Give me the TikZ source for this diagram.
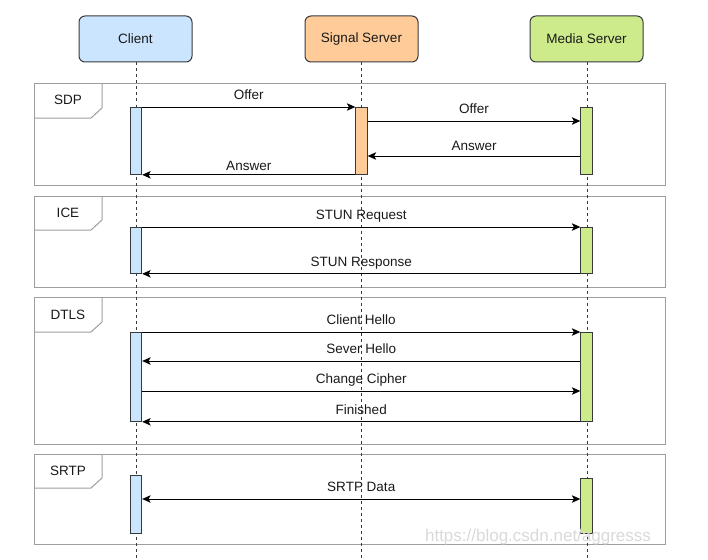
\documentclass[tikz,border=0pt]{standalone}
\usepackage{fontspec}
\setmainfont{Liberation Sans}
\usetikzlibrary{arrows.meta}
\definecolor{cblue}{HTML}{CCE5FF}
\definecolor{corange}{HTML}{FFCC99}
\definecolor{cgreen}{HTML}{CDEB8B}
\definecolor{cstroke}{HTML}{36393D}
\definecolor{cframe}{HTML}{9E9E9E}
\begin{document}
\begin{tikzpicture}[x=1pt,y=-1pt, font=\fontsize{13.5}{15}\selectfont,
 actor/.style={draw=cstroke, line width=1pt, rounded corners=6pt, minimum width=113pt, minimum height=46pt, inner sep=0pt, text=black!90},
 act/.style={draw=cstroke, line width=0.8pt, minimum width=11.5pt, inner sep=0pt, anchor=north},
 life/.style={draw=cstroke, line width=0.9pt, dash pattern=on 3pt off 3pt},
 frame/.style={draw=cframe, line width=1pt, inner sep=0pt, anchor=north west, minimum width=631pt},
 tab/.style={draw=cframe, line width=1pt},
 tip/.tip={Stealth[length=8.5pt,width=7.5pt,inset=2pt]},
 msg/.style={draw=black, line width=1pt, -tip},
 bmsg/.style={draw=black, line width=1pt, tip-tip},
 lab/.style={midway, anchor=base, yshift=7.5pt, inner sep=0pt, text=black!90},
 flab/.style={text=black!90, inner sep=0pt}]

\useasboundingbox (0,0) rectangle (708,559);

% frames
\node[frame, minimum height=102pt] (fsdp) at (34,83) {};
\draw[tab] (fsdp.north west) ++(68,0) -- ++(0,25) -- ++(-11,10) -- ++(-57,0);
\node[flab] (lsdp) at (68,100) {SDP};

\node[frame, minimum height=91pt] (fice) at (34,196) {};
\draw[tab] (fice.north west) ++(68,0) -- ++(0,24) -- ++(-11,10) -- ++(-57,0);
\node[flab] (lice) at (68,213) {ICE};

\node[frame, minimum height=147pt] (fdtls) at (34,297) {};
\draw[tab] (fdtls.north west) ++(68,0) -- ++(0,25) -- ++(-11,10) -- ++(-57,0);
\node[flab] (ldtls) at (68,315) {DTLS};

\node[frame, minimum height=90pt] (fsrtp) at (34,454) {};
\draw[tab] (fsrtp.north west) ++(68,0) -- ++(0,24) -- ++(-11,10) -- ++(-57,0);
\node[flab] (lsrtp) at (68,471) {SRTP};

% actors
\node[actor, fill=cblue] (client) at (135.5,39) {Client};
\node[actor, fill=corange] (signal) at (361.5,39) {Signal Server};
\node[actor, fill=cgreen] (media) at (586.5,39) {Media Server};

% lifelines
\coordinate (cend) at (136,559);
\coordinate (send) at (361,559);
\coordinate (mend) at (587,559);
\draw[life] (client.south -| cend) -- (cend);
\draw[life] (signal.south -| send) -- (send);
\draw[life] (media.south -| mend) -- (mend);

% activations
\node[act, fill=cblue, minimum height=67pt] (ca1) at (136,107) {};
\node[act, fill=corange, minimum height=67pt] (sa1) at (361.5,107) {};
\node[act, fill=cgreen, minimum height=67pt] (ma1) at (586.5,107) {};

\node[act, fill=cblue, minimum height=46pt] (ca2) at (136,227) {};
\node[act, fill=cgreen, minimum height=46pt] (ma2) at (586.5,227) {};

\node[act, fill=cblue, minimum height=89pt] (ca3) at (136,332) {};
\node[act, fill=cgreen, minimum height=89pt] (ma3) at (586.5,332) {};

\node[act, fill=cblue, minimum height=58pt] (ca4) at (136,475) {};
\node[act, fill=cgreen, minimum height=55pt] (ma4) at (586.5,478) {};

% messages
\draw[msg] (ca1.north east) -- (sa1.north west) node[lab] {Offer};
\draw[msg] (sa1.east |- 0,121) -- (ma1.west |- 0,121) node[lab] {Offer};
\draw[msg] (ma1.west |- 0,156) -- (sa1.east |- 0,156) node[lab, yshift=-1.5pt] {Answer};
\draw[msg] (sa1.south west) -- (ca1.south east) node[lab, yshift=-3pt] {Answer};

\draw[msg] (ca2.north east) -- (ma2.north west) node[lab] {STUN Request};
\draw[msg] (ma2.south west) -- (ca2.south east) node[lab] {STUN Response};

\draw[msg] (ca3.north east) -- (ma3.north west) node[lab] {Client Hello};
\draw[msg] (ma3.west |- 0,361) -- (ca3.east |- 0,361) node[lab] {Sever Hello};
\draw[msg] (ca3.east |- 0,391) -- (ma3.west |- 0,391) node[lab] {Change Cipher};
\draw[msg] (ma3.south west) -- (ca3.south east) node[lab] {Finished};

\draw[bmsg] (ca4.east |- 0,499) -- (ma4.west |- 0,499) node[lab] {SRTP Data};

% watermark
\node[text=gray!30, font=\fontsize{17}{17}\selectfont, inner sep=0pt] (wm) at (538,537) {https://blog.csdn.net/aggresss};
\end{tikzpicture}
\end{document}
